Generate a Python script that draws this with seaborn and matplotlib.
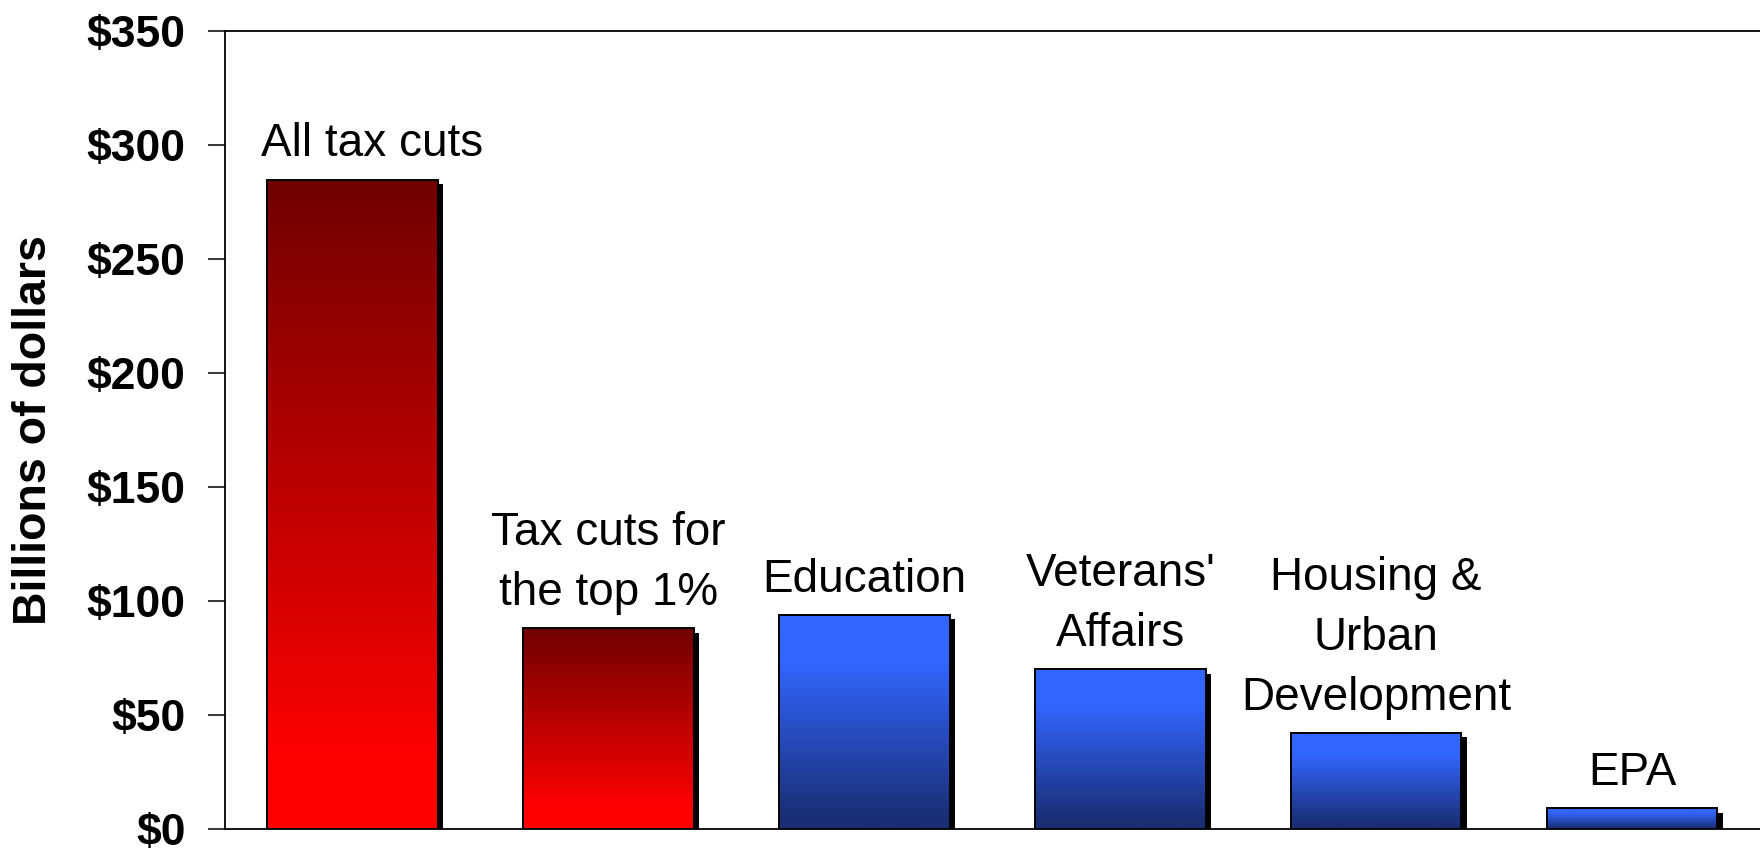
import numpy as np
import matplotlib
matplotlib.use("Agg")
import matplotlib.pyplot as plt
import matplotlib.patheffects as pe
from matplotlib.colors import to_rgb
from matplotlib.patches import Rectangle
import seaborn as sns

# data (billions of dollars)
categories = ["All tax cuts", "Tax cuts for\nthe top 1%", "Education",
              "Veterans'\nAffairs", "Housing &\nUrban\nDevelopment", "EPA"]
values = [285, 88, 94, 70, 42, 9]
groups = ["tax", "tax", "budget", "budget", "budget", "budget"]
yticks = [0, 50, 100, 150, 200, 250, 300, 350]
ytick_labels = ["$0", "$50", "$100", "$150", "$200", "$250", "$300", "$350"]

# gradient colours: (top, bottom, start, end) along the bar height
gradients = {
    "tax": ("#700000", "#ff0000", 0.0, 0.9),
    "budget": ("#3366ff", "#1a2e74", 0.22, 0.95),
}

sns.set_style("white")
plt.rcParams["font.family"] = ["Liberation Sans", "DejaVu Sans"]
plt.rcParams.update({"text.color": "black", "axes.labelcolor": "black",
                     "xtick.color": "black", "ytick.color": "black"})

fig, ax = plt.subplots(figsize=(17.6, 8.51), dpi=100)
fig.subplots_adjust(left=0.1276, right=1.0, bottom=0.026, top=0.9631)

sns.barplot(x=categories, y=values, color="0.5", width=0.667, ax=ax)


def gradient_image(top, bottom, start, end, n=256):
    t = np.linspace(0, 1, n)
    f = np.clip((t - start) / (end - start), 0, 1)[:, None]
    c0 = np.array(to_rgb(top))
    c1 = np.array(to_rgb(bottom))
    img = c0 + (c1 - c0) * f[..., None]
    return img.reshape(n, 1, 3)


for i, (p, grp, label) in enumerate(zip(ax.patches, groups, categories)):
    x0, w, h = p.get_x(), p.get_width(), p.get_height()
    p.set_facecolor("none")
    p.set_linewidth(0)
    p.set_zorder(2)
    p.set_path_effects([pe.SimplePatchShadow(offset=(4, -3), shadow_rgbFace="black", alpha=1.0),
                        pe.Normal()])
    im = ax.imshow(gradient_image(*gradients[grp]), extent=[x0, x0 + w, 0, h],
                   aspect="auto", origin="upper", zorder=3)
    im.set_clip_path(p)
    ax.add_patch(Rectangle((x0, 0), w, h, fill=False, ec="black", lw=1.4, zorder=4))
    # the first label sits a little right of its bar in the original
    dx = 14 if i == 0 else 0
    ax.annotate(label, xy=(x0 + w / 2, h), xytext=(dx, 9.5), textcoords="offset points",
                ha="center", va="bottom", fontsize=33, linespacing=1.47, multialignment="center")

ax.set_xlim(-0.5, 5.5)
ax.set_ylim(0, 350)
ax.set_yticks(yticks)
ax.set_yticklabels(ytick_labels, fontsize=32, fontweight="bold")
ax.set_xticks([])
ax.tick_params(axis="y", direction="out", length=12, width=1.1, pad=16, left=True, color="black")
ax.set_xlabel("")
ax.set_ylabel("Billions of dollars", fontsize=33.5, fontweight="bold", va="center")
ax.yaxis.set_label_coords(-0.124, 0.5)

for side in ["left", "bottom", "top"]:
    ax.spines[side].set_visible(True)
    ax.spines[side].set_color("black")
    ax.spines[side].set_linewidth(1.3)
ax.spines["right"].set_visible(False)

fig.savefig("out.png", dpi=100)
